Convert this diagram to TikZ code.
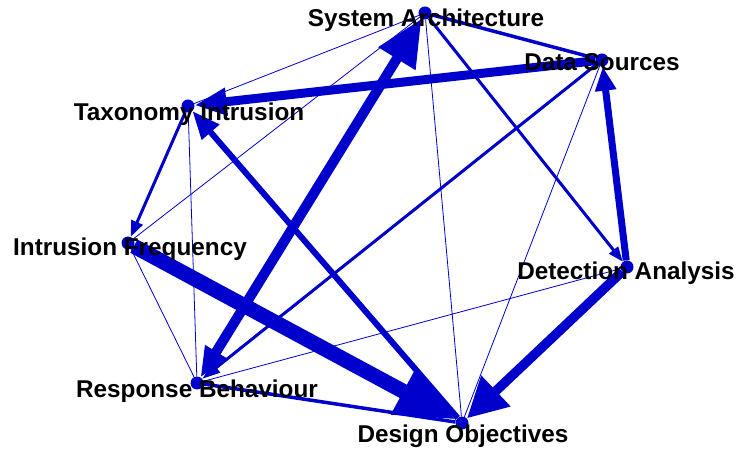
\documentclass[tikz,border=0pt]{standalone}
\usepackage{fontspec}
\setmainfont{Liberation Sans}
\usetikzlibrary{arrows.meta}
\definecolor{netblue}{RGB}{0,0,205}

\begin{document}
\begin{tikzpicture}[x=1bp, y=-1bp,
  dot/.style={circle, fill=netblue, inner sep=0pt, minimum size=13bp},
  lbl/.style={font=\fontsize{24.3bp}{28bp}\selectfont\bfseries, anchor=base, inner sep=0pt},
  edge/.style={draw=netblue},
  faint/.style={draw=netblue, line width=0.8bp}]
  \useasboundingbox (0,0) rectangle (739,452);
  % vertices
  \node[dot] (sa) at (425,13) {};
  \node[dot] (ds) at (602,60) {};
  \node[dot] (ti) at (188,106) {};
  \node[dot] (if) at (128,243) {};
  \node[dot] (da) at (627,267) {};
  \node[dot] (rb) at (197,383) {};
  \node[dot] (do) at (462,423) {};
  % weak ties
  \draw[faint] (sa) -- (ti);
  \draw[faint] (sa) -- (if);
  \draw[faint] (sa) -- (do);
  \draw[faint] (ds) -- (do);
  \draw[faint] (ti) -- (rb);
  \draw[faint] (if) -- (rb);
  \draw[faint] (da) -- (rb);
  % medium ties
  \draw[edge, line width=3.5bp] (sa) -- (ds);
  \draw[edge, line width=3.5bp] (rb) -- (do);
  \draw[edge, line width=3bp, -{Triangle[length=15bp,width=11bp]}] (sa) -- (da);
  \draw[edge, line width=3bp, -{Triangle[length=16bp,width=12bp]}] (ti) -- (if);
  \draw[edge, line width=3bp, -{Triangle[length=18bp,width=12bp]}] (ds) -- (rb);
  \draw[edge, line width=6bp, -{Triangle[length=28bp,width=22bp]}] (do) -- (ti);
  \draw[edge, line width=7bp, -{Triangle[length=24bp,width=20bp]}] (da) -- (ds);
  % strong ties
  \draw[edge, line width=9bp, -{Triangle[length=32bp,width=26bp]}] (ds) -- (ti);
  \draw[edge, line width=10bp, {Triangle[length=30bp,width=24bp]}-{Triangle[length=47bp,width=41bp]}] (rb) -- (sa);
  \draw[edge, line width=9.5bp, -{Triangle[length=40bp,width=40bp]}] (da) -- (do);
  \draw[edge, line width=15bp, -{Triangle[length=60bp,width=48bp]}] (if) -- (do);
  % labels
  \node[lbl] (saT) at (426,27) {System Architecture};
  \node[lbl] (dsT) at (602,71) {Data Sources};
  \node[lbl] (tiT) at (189,121) {Taxonomy Intrusion};
  \node[lbl] (ifT) at (130,256) {Intrusion Frequency};
  \node[lbl] (daT) at (626,280) {Detection Analysis};
  \node[lbl] (rbT) at (197,397) {Response Behaviour};
  \node[lbl] (doT) at (463,442) {Design Objectives};
\end{tikzpicture}
\end{document}
